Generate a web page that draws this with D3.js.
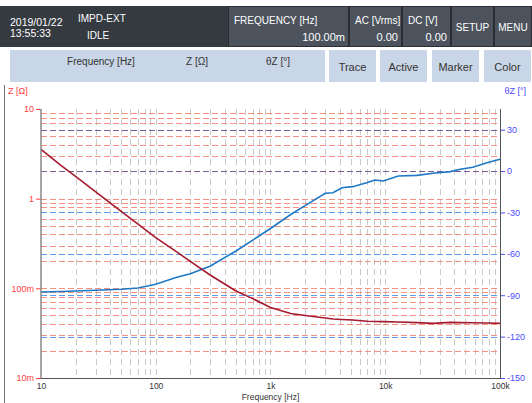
<!DOCTYPE html>
<html><head><meta charset="utf-8">
<script src="https://cdn.jsdelivr.net/npm/d3@7"></script>
<style>
html,body{margin:0;padding:0;background:#fff;}
svg{display:block;font-family:"Liberation Sans",Arial,sans-serif;}
</style></head>
<body>
<svg id="c" width="532" height="403"></svg>
<script>
// ---- data ----
const freq = [10, 15, 20, 30, 50, 70, 100, 150, 200, 300, 500, 700, 1000, 1500, 2000, 3000, 3500, 4200, 5200, 7000, 8100, 9600, 13000, 19000, 26000, 37000, 45000, 58000, 77000, 100000];
const zMag = [3.55, 2.34, 1.77, 1.19, 0.723, 0.52, 0.367, 0.258, 0.2, 0.14, 0.0934, 0.0768, 0.0611, 0.0524, 0.0498, 0.0467, 0.0455, 0.045, 0.0443, 0.0429, 0.0427, 0.0425, 0.0421, 0.0415, 0.0407, 0.0417, 0.0415, 0.0414, 0.0411, 0.0407];
const zPhase = [-87.7, -87.3, -86.9, -86.4, -85.7, -84.8, -82.0, -77.1, -74.5, -68.8, -57.9, -50.0, -41.6, -31.5, -25.0, -16.1, -15.7, -12.1, -11.3, -8.3, -6.5, -7.2, -3.6, -3.1, -1.6, -0.4, 1.3, 2.8, 6.1, 8.6];
const xTicks = [10, 100, 1000, 10000, 100000];
const xTickLabels = ["10", "100", "1k", "10k", "100k"];
const zTicks = [10, 1, 0.1, 0.01];
const zTickLabels = ["10", "1", "100m", "10m"];
const pTicks = [30, 0, -30, -60, -90, -120, -150];
const headerInfo = {date: "2019/01/22", time: "13:55:33", mode: "IMPD-EXT", state: "IDLE"};
const statusBoxes = [
  {title: "FREQUENCY [Hz]", value: "100.00m"},
  {title: "AC [Vrms]", value: "0.00"},
  {title: "DC [V]", value: "0.00"}
];
const menuButtons = ["SETUP", "MENU"];
const columnLabels = ["Frequency [Hz]", "Z [Ω]", "θZ [°]"];
const toolButtons = ["Trace", "Active", "Marker", "Color"];

const svg = d3.select("#c");

// ---- header ----
svg.append("rect").attr("x", 0).attr("y", 6).attr("width", 532).attr("height", 41).attr("fill", "#353a41");
const t = (x, y, s, size, fill, anchor) => svg.append("text").attr("x", x).attr("y", y).attr("font-size", size)
  .attr("fill", fill).attr("text-anchor", anchor || "start").text(s);
t(10, 26, headerInfo.date, 10.5, "#fff");
t(10, 37, headerInfo.time, 10.5, "#fff");
t(78, 22, headerInfo.mode, 10, "#fff");
t(87, 39, headerInfo.state, 10, "#fff");

const boxX = [228, 349, 402, 451, 494, 532];
for (let i = 0; i < 5; i++) {
  svg.append("rect").attr("x", boxX[i] + 0.5).attr("y", 6.5).attr("width", boxX[i + 1] - boxX[i] - 1).attr("height", 40)
    .attr("fill", "#4c535d").attr("stroke", "#2a2e34").attr("stroke-width", 1);
}
statusBoxes.forEach((b, i) => {
  t(boxX[i] + 6, 24, b.title, 10, "#fff");
  t(boxX[i + 1] - 4, 41, b.value, 11, "#fff", "end");
});
menuButtons.forEach((m, i) => {
  t((boxX[3 + i] + boxX[4 + i]) / 2, 31, m, 10, "#fff", "middle");
});

// ---- second row ----
svg.append("rect").attr("x", 10).attr("y", 50).attr("width", 315).attr("height", 32).attr("fill", "#c9d6e7");
const colX = [101, 197, 278];
columnLabels.forEach((c, i) => t(colX[i], 65, c, 10, "#333", "middle"));
const btnX = [329, 380, 432, 484];
toolButtons.forEach((b, i) => {
  svg.append("rect").attr("x", btnX[i]).attr("y", 50).attr("width", 47).attr("height", 32).attr("fill", "#c9d6e7");
  t(btnX[i] + 23.5, 71, b, 11, "#333", "middle");
});

// outer left frame line
svg.append("line").attr("x1", 4.5).attr("x2", 4.5).attr("y1", 85).attr("y2", 403).attr("stroke", "#777").attr("stroke-width", 1);

// ---- plot ----
const L = 41, R = 500, T = 109, B = 378;
const x = d3.scaleLog().domain([10, 100000]).range([L, R]);
const yZ = d3.scaleLog().domain([0.01, 10]).range([B, T]);
const yP = d3.scaleLinear().domain([-150, 45]).range([B, T]);

// vertical grid
const vGrid = [];
for (let d = 10; d < 100000; d *= 10) for (let k = 1; k <= 9; k++) { const v = d * k; if (v > 10 && v < 100000) vGrid.push(v); }
svg.append("g").selectAll("line").data(vGrid).join("line")
  .attr("x1", d => Math.round(x(d)) + 0.5).attr("x2", d => Math.round(x(d)) + 0.5)
  .attr("y1", T).attr("y2", B).attr("stroke", "#c9c9c9").attr("stroke-width", 1).attr("stroke-dasharray", "6,4");

// phase grid positions
const pGrid = pTicks.filter(d => d > -150);
const pRows = pGrid.map(d => yP(d));

// Z minor grid (lines hidden under a phase grid line are skipped)
const zGrid = [];
for (let d = 0.01; d < 9; d *= 10) for (let k = 1; k <= 9; k++) { const v = d * k; if (v > 0.0101 && v < 9.99) zGrid.push(v); }
svg.append("g").selectAll("line").data(zGrid.filter(v => !pRows.some(r => Math.abs(r - yZ(v)) < 1))).join("line")
  .attr("x1", L).attr("x2", R)
  .attr("y1", d => Math.round(yZ(d)) + 0.5).attr("y2", d => Math.round(yZ(d)) + 0.5)
  .attr("stroke", "#f37f6c").attr("stroke-opacity", 0.85).attr("stroke-width", 1).attr("stroke-dasharray", "6,3");

// phase grid (lines that coincide with a Z grid line render purple, as in the instrument display)
const mixedPhaseLines = [30, 0];
svg.append("g").selectAll("line").data(pGrid).join("line")
  .attr("x1", L).attr("x2", R)
  .attr("y1", d => Math.round(yP(d)) + 0.5).attr("y2", d => Math.round(yP(d)) + 0.5)
  .attr("stroke", d => mixedPhaseLines.includes(d) ? "#7d5c9c" : "#5a9ef2")
  .attr("stroke-width", 1).attr("stroke-dasharray", "6,3");

// traces
const pts = freq.map((f, i) => ({f, z: zMag[i], p: zPhase[i]}));
svg.append("path").datum(pts).attr("fill", "none").attr("stroke", "#1d78c6").attr("stroke-width", 1.6)
  .attr("d", d3.line().x(d => x(d.f)).y(d => yP(d.p)));
svg.append("path").datum(pts).attr("fill", "none").attr("stroke", "#a51a30").attr("stroke-width", 1.6)
  .attr("d", d3.line().x(d => x(d.f)).y(d => yZ(d.z)));

// axes
const ax = svg.append("g").attr("transform", `translate(${L},0)`)
  .call(d3.axisLeft(yZ).tickValues(zTicks).tickFormat((d, i) => zTickLabels[i]).tickSize(5).tickPadding(2));
ax.select(".domain").remove();
ax.selectAll(".tick line").attr("stroke", "#ff4040");
ax.selectAll(".tick text").attr("fill", "#ff4040").attr("font-size", 9).attr("font-family", "Liberation Sans, Arial, sans-serif");

const ar = svg.append("g").attr("transform", `translate(${R},0)`)
  .call(d3.axisRight(yP).tickValues(pTicks).tickFormat(d => String(d)).tickSize(5).tickPadding(2));
ar.select(".domain").remove();
ar.selectAll(".tick line").attr("stroke", "#4a4aff");
ar.selectAll(".tick text").attr("fill", "#4a4aff").attr("font-size", 9).attr("font-family", "Liberation Sans, Arial, sans-serif");

const ab = svg.append("g").attr("transform", `translate(0,${B})`)
  .call(d3.axisBottom(x).tickValues(xTicks).tickFormat((d, i) => xTickLabels[i]).tickSize(0).tickPadding(5));
ab.select(".domain").remove();
ab.selectAll(".tick text").attr("fill", "#333").attr("font-size", 8.5).attr("font-family", "Liberation Sans, Arial, sans-serif");

// frame lines
svg.append("line").attr("x1", L).attr("x2", L).attr("y1", T).attr("y2", B).attr("stroke", "#888").attr("stroke-width", 1.5);
svg.append("line").attr("x1", L).attr("x2", R + 1).attr("y1", B + 0.5).attr("y2", B + 0.5).attr("stroke", "#555").attr("stroke-width", 1);
svg.append("line").attr("x1", R + 0.5).attr("x2", R + 0.5).attr("y1", T).attr("y2", B).attr("stroke", "#555").attr("stroke-width", 1);

// axis titles
t(8, 94, "Z [Ω]", 9, "#ff4040");
t(526, 94, "θZ [°]", 9, "#4a4aff", "end");
t((L + R) / 2, 399.5, "Frequency [Hz]", 8.5, "#333", "middle");
</script>
</body></html>
